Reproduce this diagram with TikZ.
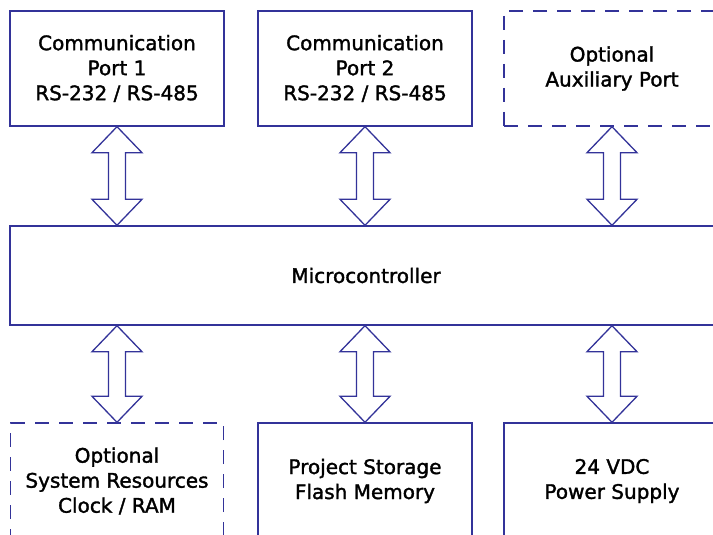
\documentclass[tikz,border=0pt]{standalone}
\usepackage{fontspec}
\setmainfont{DejaVu Sans}
\newfontfamily\diagfont{DejaVu Sans}[FakeBold=1.6]
\usetikzlibrary{calc}
\definecolor{lineblue}{RGB}{51,51,153}
\tikzset{
  blk/.style={draw=lineblue, line width=1.4pt, inner sep=0pt, align=center,
    font=\diagfont\fontsize{20}{25}\selectfont, text=black},
  optbox/.style={blk, dash pattern=on 14pt off 10pt},
  arr/.style={draw=lineblue, line width=1.3pt, fill=white, line join=miter}
}
\newcommand\dblarr[2]{%
  \draw[arr] (#1) -- ++(25,26) -- ++(-16.5,0) -- ($(#2)+(8.5,-26)$) -- ++(16.5,0)
    -- (#2) -- ++(-25,-26) -- ++(16.5,0) -- ($(#1)+(-8.5,26)$) -- ++(-16.5,0) -- cycle;}
\begin{document}
\begin{tikzpicture}[x=1pt,y=-1pt]
\useasboundingbox (0,0) rectangle (713,535);
\clip (0,0) rectangle (713,535);
\fill[white] (0,0) rectangle (713,535);
% top row
\node[blk, minimum width=214pt, minimum height=115pt] (p1) at (117,68.5)
  {Communication\\Port 1\\RS-232 / RS-485};
\node[blk, minimum width=214pt, minimum height=115pt] (p2) at (365,68.5)
  {Communication\\Port 2\\RS-232 / RS-485};
\node[optbox, minimum width=216pt, minimum height=115pt] (p3) at (612,68.5)
  {Optional\\Auxiliary Port};
% microcontroller
\node[blk, minimum width=712pt, minimum height=99pt] (mc) at (366,275.5)
  {Microcontroller};
% bottom row
\node[optbox, minimum width=213pt, minimum height=116pt] (b1) at (117,481)
  {Optional\\System Resources\\Clock / RAM};
\node[blk, minimum width=214pt, minimum height=116pt] (b2) at (365,481)
  {Project Storage\\Flash Memory};
\node[blk, minimum width=216pt, minimum height=116pt] (b3) at (612,481)
  {24 VDC\\Power Supply};
% arrows
\coordinate (m1t) at (mc.north -| p1.south);
\coordinate (m2t) at (mc.north -| p2.south);
\coordinate (m3t) at (mc.north -| p3.south);
\coordinate (m1b) at (mc.south -| b1.north);
\coordinate (m2b) at (mc.south -| b2.north);
\coordinate (m3b) at (mc.south -| b3.north);
\dblarr{p1.south}{m1t}
\dblarr{p2.south}{m2t}
\dblarr{p3.south}{m3t}
\dblarr{m1b}{b1.north}
\dblarr{m2b}{b2.north}
\dblarr{m3b}{b3.north}
\end{tikzpicture}
\end{document}
